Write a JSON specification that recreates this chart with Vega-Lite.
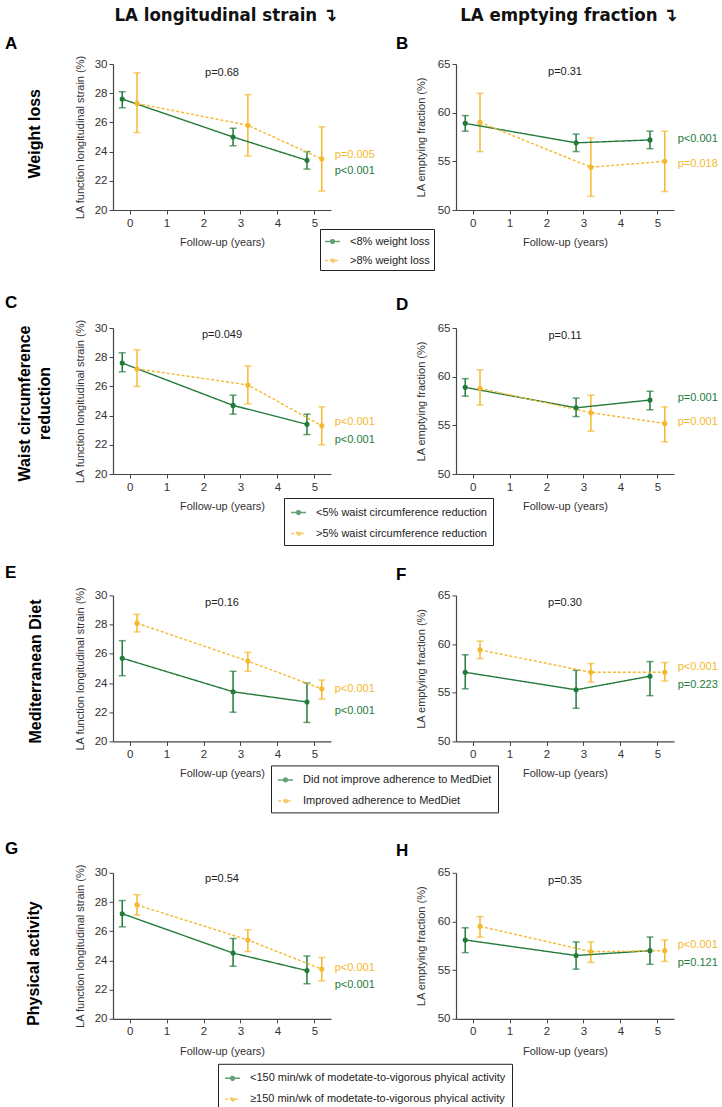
{
"$schema":"https://vega.github.io/schema/vega-lite/v6.json",
"padding":{"left":5,"top":5,"right":0,"bottom":0},
"background":"white",
"datasets":{
"d":[
{"panel":"A","g":"<8% weight loss","x":-0.2,"y":27.6,"lo":27.0,"hi":28.1},
{"panel":"A","g":"<8% weight loss","x":2.8,"y":25.0,"lo":24.4,"hi":25.6},
{"panel":"A","g":"<8% weight loss","x":4.8,"y":23.4,"lo":22.8,"hi":24.0},
{"panel":"A","g":">8% weight loss","x":0.2,"y":27.3,"lo":25.3,"hi":29.4},
{"panel":"A","g":">8% weight loss","x":3.2,"y":25.8,"lo":23.7,"hi":27.9},
{"panel":"A","g":">8% weight loss","x":5.2,"y":23.5,"lo":21.3,"hi":25.7},
{"panel":"B","g":"<8% weight loss","x":-0.2,"y":58.9,"lo":58.1,"hi":59.7},
{"panel":"B","g":"<8% weight loss","x":2.8,"y":56.9,"lo":56.0,"hi":57.8},
{"panel":"B","g":"<8% weight loss","x":4.8,"y":57.2,"lo":56.3,"hi":58.1},
{"panel":"B","g":">8% weight loss","x":0.2,"y":59.0,"lo":56.0,"hi":62.0},
{"panel":"B","g":">8% weight loss","x":3.2,"y":54.4,"lo":51.4,"hi":57.4},
{"panel":"B","g":">8% weight loss","x":5.2,"y":55.0,"lo":51.9,"hi":58.1},
{"panel":"C","g":"<5% waist circumference reduction","x":-0.2,"y":27.6,"lo":27.0,"hi":28.3},
{"panel":"C","g":"<5% waist circumference reduction","x":2.8,"y":24.7,"lo":24.1,"hi":25.4},
{"panel":"C","g":"<5% waist circumference reduction","x":4.8,"y":23.4,"lo":22.7,"hi":24.1},
{"panel":"C","g":">5% waist circumference reduction","x":0.2,"y":27.2,"lo":26.0,"hi":28.5},
{"panel":"C","g":">5% waist circumference reduction","x":3.2,"y":26.1,"lo":24.8,"hi":27.4},
{"panel":"C","g":">5% waist circumference reduction","x":5.2,"y":23.3,"lo":22.0,"hi":24.6},
{"panel":"D","g":"<5% waist circumference reduction","x":-0.2,"y":58.9,"lo":58.0,"hi":59.8},
{"panel":"D","g":"<5% waist circumference reduction","x":2.8,"y":56.8,"lo":55.9,"hi":57.8},
{"panel":"D","g":"<5% waist circumference reduction","x":4.8,"y":57.6,"lo":56.6,"hi":58.5},
{"panel":"D","g":">5% waist circumference reduction","x":0.2,"y":58.8,"lo":57.1,"hi":60.7},
{"panel":"D","g":">5% waist circumference reduction","x":3.2,"y":56.3,"lo":54.4,"hi":58.1},
{"panel":"D","g":">5% waist circumference reduction","x":5.2,"y":55.2,"lo":53.3,"hi":56.9},
{"panel":"E","g":"Did not improve adherence to MedDiet","x":-0.2,"y":25.7,"lo":24.5,"hi":26.9},
{"panel":"E","g":"Did not improve adherence to MedDiet","x":2.8,"y":23.4,"lo":22.0,"hi":24.8},
{"panel":"E","g":"Did not improve adherence to MedDiet","x":4.8,"y":22.7,"lo":21.3,"hi":24.0},
{"panel":"E","g":"Improved adherence to MedDiet","x":0.2,"y":28.1,"lo":27.5,"hi":28.7},
{"panel":"E","g":"Improved adherence to MedDiet","x":3.2,"y":25.5,"lo":24.8,"hi":26.1},
{"panel":"E","g":"Improved adherence to MedDiet","x":5.2,"y":23.6,"lo":22.9,"hi":24.2},
{"panel":"F","g":"Did not improve adherence to MedDiet","x":-0.2,"y":57.1,"lo":55.4,"hi":58.9},
{"panel":"F","g":"Did not improve adherence to MedDiet","x":2.8,"y":55.3,"lo":53.4,"hi":57.3},
{"panel":"F","g":"Did not improve adherence to MedDiet","x":4.8,"y":56.7,"lo":54.7,"hi":58.2},
{"panel":"F","g":"Improved adherence to MedDiet","x":0.2,"y":59.4,"lo":58.5,"hi":60.3},
{"panel":"F","g":"Improved adherence to MedDiet","x":3.2,"y":57.1,"lo":56.1,"hi":58.0},
{"panel":"F","g":"Improved adherence to MedDiet","x":5.2,"y":57.1,"lo":56.2,"hi":58.1},
{"panel":"G","g":"<150 min/wk of modetate-to-vigorous phyical activity","x":-0.2,"y":27.2,"lo":26.3,"hi":28.1},
{"panel":"G","g":"<150 min/wk of modetate-to-vigorous phyical activity","x":2.8,"y":24.5,"lo":23.6,"hi":25.5},
{"panel":"G","g":"<150 min/wk of modetate-to-vigorous phyical activity","x":4.8,"y":23.3,"lo":22.4,"hi":24.3},
{"panel":"G","g":"≥150 min/wk of modetate-to-vigorous phyical activity","x":0.2,"y":27.8,"lo":27.1,"hi":28.5},
{"panel":"G","g":"≥150 min/wk of modetate-to-vigorous phyical activity","x":3.2,"y":25.4,"lo":24.6,"hi":26.1},
{"panel":"G","g":"≥150 min/wk of modetate-to-vigorous phyical activity","x":5.2,"y":23.4,"lo":22.6,"hi":24.2},
{"panel":"H","g":"<150 min/wk of modetate-to-vigorous phyical activity","x":-0.2,"y":58.1,"lo":56.8,"hi":59.35},
{"panel":"H","g":"<150 min/wk of modetate-to-vigorous phyical activity","x":2.8,"y":56.5,"lo":55.1,"hi":57.9},
{"panel":"H","g":"<150 min/wk of modetate-to-vigorous phyical activity","x":4.8,"y":57.0,"lo":55.6,"hi":58.4},
{"panel":"H","g":"≥150 min/wk of modetate-to-vigorous phyical activity","x":0.2,"y":59.5,"lo":58.4,"hi":60.5},
{"panel":"H","g":"≥150 min/wk of modetate-to-vigorous phyical activity","x":3.2,"y":56.9,"lo":55.8,"hi":57.9},
{"panel":"H","g":"≥150 min/wk of modetate-to-vigorous phyical activity","x":5.2,"y":57.0,"lo":55.9,"hi":58.1}
],
"p":[
{"panel":"A","g":">8% weight loss","x":5.55,"y":23.8,"label":"p=0.005"},
{"panel":"A","g":"<8% weight loss","x":5.55,"y":22.65,"label":"p<0.001"},
{"panel":"B","g":"<8% weight loss","x":5.55,"y":57.3,"label":"p<0.001"},
{"panel":"B","g":">8% weight loss","x":5.55,"y":54.7,"label":"p=0.018"},
{"panel":"C","g":">5% waist circumference reduction","x":5.55,"y":23.55,"label":"p<0.001"},
{"panel":"C","g":"<5% waist circumference reduction","x":5.55,"y":22.3,"label":"p<0.001"},
{"panel":"D","g":"<5% waist circumference reduction","x":5.55,"y":57.8,"label":"p=0.001"},
{"panel":"D","g":">5% waist circumference reduction","x":5.55,"y":55.3,"label":"p=0.001"},
{"panel":"E","g":"Improved adherence to MedDiet","x":5.55,"y":23.6,"label":"p<0.001"},
{"panel":"E","g":"Did not improve adherence to MedDiet","x":5.55,"y":22.1,"label":"p<0.001"},
{"panel":"F","g":"Improved adherence to MedDiet","x":5.55,"y":57.6,"label":"p<0.001"},
{"panel":"F","g":"Did not improve adherence to MedDiet","x":5.55,"y":55.8,"label":"p=0.223"},
{"panel":"G","g":"≥150 min/wk of modetate-to-vigorous phyical activity","x":5.55,"y":23.5,"label":"p<0.001"},
{"panel":"G","g":"<150 min/wk of modetate-to-vigorous phyical activity","x":5.55,"y":22.3,"label":"p<0.001"},
{"panel":"H","g":"≥150 min/wk of modetate-to-vigorous phyical activity","x":5.55,"y":57.6,"label":"p<0.001"},
{"panel":"H","g":"<150 min/wk of modetate-to-vigorous phyical activity","x":5.55,"y":55.75,"label":"p=0.121"}
],
"o":[
{"panel":"A","x":2.5,"y":29.4,"label":"p=0.68"},
{"panel":"B","x":2.5,"y":64.15,"label":"p=0.31"},
{"panel":"C","x":2.5,"y":29.5,"label":"p=0.049"},
{"panel":"D","x":2.5,"y":64.2,"label":"p=0.11"},
{"panel":"E","x":2.5,"y":29.45,"label":"p=0.16"},
{"panel":"F","x":2.5,"y":64.2,"label":"p=0.30"},
{"panel":"G","x":2.5,"y":29.55,"label":"p=0.54"},
{"panel":"H","x":2.5,"y":64.15,"label":"p=0.35"}
]
},
"spacing":23,
"resolve":{"scale":{"color":"independent","strokeDash":"independent","x":"independent","y":"independent"},"legend":{"color":"independent","strokeDash":"independent"}},
"vconcat":[
{
"title":{"text":"Weight loss","orient":"left","anchor":"middle","frame":"bounds","offset":-38,"dx":4.5,"fontSize":16},
"bounds":"flush","spacing":125,
"resolve":{"scale":{"color":"independent","strokeDash":"independent","x":"independent","y":"independent"},"legend":{"color":"independent","strokeDash":"independent"}},
"hconcat":[
{"width":218,"height":146,"title":{"text":"A","dx":-108,"offset":-47},
"data":{"name":"d"},"transform":[{"filter":"datum.panel==='A'"}],
"layer":[
{"mark":{"type":"rule","strokeWidth":1.5},"encoding":{"x":{"field":"x","type":"quantitative","scale":{"domain":[-0.45,5.45],"nice":false,"zero":false},"axis":{"title":"Follow-up (years)","values":[0,1,2,3,4,5],"format":"d","labelOverlap":false,"labelPadding":3,"titlePadding":8}},"y":{"field":"lo","type":"quantitative","scale":{"domain":[20,30],"nice":false,"zero":false},"axis":{"title":"LA function longitudinal strain (%)","values":[20,22,24,26,28,30],"format":"d","tickCount":10,"labelOverlap":false,"labelPadding":2,"titlePadding":9}},"y2":{"field":"hi"},"color":{"field":"g","type":"nominal","scale":{"domain":["<8% weight loss",">8% weight loss"],"range":["#237b3b","#f5b82e"]}}}},
{"mark":{"type":"tick","orient":"horizontal","size":7,"thickness":1.5},"encoding":{"x":{"field":"x","type":"quantitative","scale":{"domain":[-0.45,5.45],"nice":false,"zero":false}},"y":{"field":"lo","type":"quantitative","scale":{"domain":[20,30],"nice":false,"zero":false}},"color":{"field":"g","type":"nominal","scale":{"domain":["<8% weight loss",">8% weight loss"],"range":["#237b3b","#f5b82e"]}}}},
{"mark":{"type":"tick","orient":"horizontal","size":7,"thickness":1.5},"encoding":{"x":{"field":"x","type":"quantitative","scale":{"domain":[-0.45,5.45],"nice":false,"zero":false}},"y":{"field":"hi","type":"quantitative","scale":{"domain":[20,30],"nice":false,"zero":false}},"color":{"field":"g","type":"nominal","scale":{"domain":["<8% weight loss",">8% weight loss"],"range":["#237b3b","#f5b82e"]}}}},
{"mark":{"type":"line","strokeWidth":1.4},"encoding":{"x":{"field":"x","type":"quantitative","scale":{"domain":[-0.45,5.45],"nice":false,"zero":false}},"y":{"field":"y","type":"quantitative","scale":{"domain":[20,30],"nice":false,"zero":false}},
"color":{"field":"g","type":"nominal","scale":{"domain":["<8% weight loss",">8% weight loss"],"range":["#237b3b","#f5b82e"]},"legend":{"title":null,"orient":"none","legendX":207,"legendY":165,"padding":4,"rowPadding":5}},
"strokeDash":{"field":"g","type":"nominal","scale":{"domain":["<8% weight loss",">8% weight loss"],"range":[[1,0],[3,2]]},"legend":{"title":null,"orient":"none","legendX":207,"legendY":165,"padding":4,"rowPadding":5}}}},
{"mark":{"type":"point","filled":true,"size":26,"opacity":1},"encoding":{"x":{"field":"x","type":"quantitative","scale":{"domain":[-0.45,5.45],"nice":false,"zero":false}},"y":{"field":"y","type":"quantitative","scale":{"domain":[20,30],"nice":false,"zero":false}},"color":{"field":"g","type":"nominal","scale":{"domain":["<8% weight loss",">8% weight loss"],"range":["#237b3b","#f5b82e"]}}}},
{"data":{"name":"p"},"transform":[{"filter":"datum.panel==='A'"}],"mark":{"type":"text","align":"left","baseline":"middle","fontSize":11},"encoding":{"x":{"field":"x","type":"quantitative","scale":{"domain":[-0.45,5.45],"nice":false,"zero":false}},"y":{"field":"y","type":"quantitative","scale":{"domain":[20,30],"nice":false,"zero":false}},"text":{"field":"label"},"color":{"field":"g","type":"nominal","scale":{"domain":["<8% weight loss",">8% weight loss"],"range":["#237b3b","#f5b82e"]}}}},
{"data":{"name":"o"},"transform":[{"filter":"datum.panel==='A'"}],"mark":{"type":"text","align":"center","baseline":"middle","fontSize":11,"color":"#222"},"encoding":{"x":{"field":"x","type":"quantitative","scale":{"domain":[-0.45,5.45],"nice":false,"zero":false}},"y":{"field":"y","type":"quantitative","scale":{"domain":[20,30],"nice":false,"zero":false}},"text":{"field":"label"}}},
{"data":{"values":[{"t":"LA longitudinal strain ↴"}]},"mark":{"type":"text","align":"center","baseline":"middle","fontSize":18.5,"fontWeight":"bold","font":"DejaVu Sans Condensed, Liberation Sans","color":"#111"},"encoding":{"x":{"datum":2.6,"type":"quantitative","scale":{"domain":[-0.45,5.45],"nice":false,"zero":false}},"y":{"datum":33.36,"type":"quantitative","scale":{"domain":[20,30],"nice":false,"zero":false}},"text":{"field":"t"}}}
]},
{"width":218,"height":146,"title":{"text":"B","dx":-60,"offset":-47},
"data":{"name":"d"},"transform":[{"filter":"datum.panel==='B'"}],
"layer":[
{"mark":{"type":"rule","strokeWidth":1.5},"encoding":{"x":{"field":"x","type":"quantitative","scale":{"domain":[-0.45,5.45],"nice":false,"zero":false},"axis":{"title":"Follow-up (years)","values":[0,1,2,3,4,5],"format":"d","labelOverlap":false,"labelPadding":3,"titlePadding":8}},"y":{"field":"lo","type":"quantitative","scale":{"domain":[50,65],"nice":false,"zero":false},"axis":{"title":"LA emptying fraction  (%)","values":[50,55,60,65],"format":"d","tickCount":10,"labelOverlap":false,"labelPadding":2,"titlePadding":11}},"y2":{"field":"hi"},"color":{"field":"g","type":"nominal","scale":{"domain":["<8% weight loss",">8% weight loss"],"range":["#237b3b","#f5b82e"]},"legend":null}}},
{"mark":{"type":"tick","orient":"horizontal","size":7,"thickness":1.5},"encoding":{"x":{"field":"x","type":"quantitative","scale":{"domain":[-0.45,5.45],"nice":false,"zero":false}},"y":{"field":"lo","type":"quantitative","scale":{"domain":[50,65],"nice":false,"zero":false}},"color":{"field":"g","type":"nominal","scale":{"domain":["<8% weight loss",">8% weight loss"],"range":["#237b3b","#f5b82e"]},"legend":null}}},
{"mark":{"type":"tick","orient":"horizontal","size":7,"thickness":1.5},"encoding":{"x":{"field":"x","type":"quantitative","scale":{"domain":[-0.45,5.45],"nice":false,"zero":false}},"y":{"field":"hi","type":"quantitative","scale":{"domain":[50,65],"nice":false,"zero":false}},"color":{"field":"g","type":"nominal","scale":{"domain":["<8% weight loss",">8% weight loss"],"range":["#237b3b","#f5b82e"]},"legend":null}}},
{"mark":{"type":"line","strokeWidth":1.4},"encoding":{"x":{"field":"x","type":"quantitative","scale":{"domain":[-0.45,5.45],"nice":false,"zero":false}},"y":{"field":"y","type":"quantitative","scale":{"domain":[50,65],"nice":false,"zero":false}},"color":{"field":"g","type":"nominal","scale":{"domain":["<8% weight loss",">8% weight loss"],"range":["#237b3b","#f5b82e"]},"legend":null},"strokeDash":{"field":"g","type":"nominal","scale":{"domain":["<8% weight loss",">8% weight loss"],"range":[[1,0],[3,2]]},"legend":null}}},
{"mark":{"type":"point","filled":true,"size":26,"opacity":1},"encoding":{"x":{"field":"x","type":"quantitative","scale":{"domain":[-0.45,5.45],"nice":false,"zero":false}},"y":{"field":"y","type":"quantitative","scale":{"domain":[50,65],"nice":false,"zero":false}},"color":{"field":"g","type":"nominal","scale":{"domain":["<8% weight loss",">8% weight loss"],"range":["#237b3b","#f5b82e"]},"legend":null}}},
{"data":{"name":"p"},"transform":[{"filter":"datum.panel==='B'"}],"mark":{"type":"text","align":"left","baseline":"middle","fontSize":11},"encoding":{"x":{"field":"x","type":"quantitative","scale":{"domain":[-0.45,5.45],"nice":false,"zero":false}},"y":{"field":"y","type":"quantitative","scale":{"domain":[50,65],"nice":false,"zero":false}},"text":{"field":"label"},"color":{"field":"g","type":"nominal","scale":{"domain":["<8% weight loss",">8% weight loss"],"range":["#237b3b","#f5b82e"]},"legend":null}}},
{"data":{"name":"o"},"transform":[{"filter":"datum.panel==='B'"}],"mark":{"type":"text","align":"center","baseline":"middle","fontSize":11,"color":"#222"},"encoding":{"x":{"field":"x","type":"quantitative","scale":{"domain":[-0.45,5.45],"nice":false,"zero":false}},"y":{"field":"y","type":"quantitative","scale":{"domain":[50,65],"nice":false,"zero":false}},"text":{"field":"label"}}},
{"data":{"values":[{"t":"LA emptying fraction ↴"}]},"mark":{"type":"text","align":"center","baseline":"middle","fontSize":18.5,"fontWeight":"bold","font":"DejaVu Sans Condensed, Liberation Sans","color":"#111"},"encoding":{"x":{"datum":2.6,"type":"quantitative","scale":{"domain":[-0.45,5.45],"nice":false,"zero":false}},"y":{"datum":70.0,"type":"quantitative","scale":{"domain":[50,65],"nice":false,"zero":false}},"text":{"field":"t"}}}
]}
]},
{
"spacing":17.4,
"resolve":{"scale":{"color":"independent","strokeDash":"independent","x":"independent","y":"independent"},"legend":{"color":"independent","strokeDash":"independent"}},
"vconcat":[
{
"title":{"text":["Waist circumference","reduction"],"orient":"left","anchor":"middle","frame":"bounds","offset":-48,"dx":16.5,"fontSize":16,"lineHeight":20},
"bounds":"flush","spacing":125,
"resolve":{"scale":{"color":"independent","strokeDash":"independent","x":"independent","y":"independent"},"legend":{"color":"independent","strokeDash":"independent"}},
"hconcat":[
{"width":218,"height":146,"title":{"text":"C","dx":-108,"offset":6.6},
"data":{"name":"d"},"transform":[{"filter":"datum.panel==='C'"}],
"layer":[
{"mark":{"type":"rule","strokeWidth":1.5},"encoding":{"x":{"field":"x","type":"quantitative","scale":{"domain":[-0.45,5.45],"nice":false,"zero":false},"axis":{"title":"Follow-up (years)","values":[0,1,2,3,4,5],"format":"d","labelOverlap":false,"labelPadding":3,"titlePadding":8}},"y":{"field":"lo","type":"quantitative","scale":{"domain":[20,30],"nice":false,"zero":false},"axis":{"title":"LA function longitudinal strain (%)","values":[20,22,24,26,28,30],"format":"d","tickCount":10,"labelOverlap":false,"labelPadding":2,"titlePadding":9}},"y2":{"field":"hi"},"color":{"field":"g","type":"nominal","scale":{"domain":["<5% waist circumference reduction",">5% waist circumference reduction"],"range":["#237b3b","#f5b82e"]}}}},
{"mark":{"type":"tick","orient":"horizontal","size":7,"thickness":1.5},"encoding":{"x":{"field":"x","type":"quantitative","scale":{"domain":[-0.45,5.45],"nice":false,"zero":false}},"y":{"field":"lo","type":"quantitative","scale":{"domain":[20,30],"nice":false,"zero":false}},"color":{"field":"g","type":"nominal","scale":{"domain":["<5% waist circumference reduction",">5% waist circumference reduction"],"range":["#237b3b","#f5b82e"]}}}},
{"mark":{"type":"tick","orient":"horizontal","size":7,"thickness":1.5},"encoding":{"x":{"field":"x","type":"quantitative","scale":{"domain":[-0.45,5.45],"nice":false,"zero":false}},"y":{"field":"hi","type":"quantitative","scale":{"domain":[20,30],"nice":false,"zero":false}},"color":{"field":"g","type":"nominal","scale":{"domain":["<5% waist circumference reduction",">5% waist circumference reduction"],"range":["#237b3b","#f5b82e"]}}}},
{"mark":{"type":"line","strokeWidth":1.4},"encoding":{"x":{"field":"x","type":"quantitative","scale":{"domain":[-0.45,5.45],"nice":false,"zero":false}},"y":{"field":"y","type":"quantitative","scale":{"domain":[20,30],"nice":false,"zero":false}},
"color":{"field":"g","type":"nominal","scale":{"domain":["<5% waist circumference reduction",">5% waist circumference reduction"],"range":["#237b3b","#f5b82e"]},"legend":{"title":null,"orient":"none","legendX":171,"legendY":170,"padding":6,"rowPadding":7}},
"strokeDash":{"field":"g","type":"nominal","scale":{"domain":["<5% waist circumference reduction",">5% waist circumference reduction"],"range":[[1,0],[3,2]]},"legend":{"title":null,"orient":"none","legendX":171,"legendY":170,"padding":6,"rowPadding":7}}}},
{"mark":{"type":"point","filled":true,"size":26,"opacity":1},"encoding":{"x":{"field":"x","type":"quantitative","scale":{"domain":[-0.45,5.45],"nice":false,"zero":false}},"y":{"field":"y","type":"quantitative","scale":{"domain":[20,30],"nice":false,"zero":false}},"color":{"field":"g","type":"nominal","scale":{"domain":["<5% waist circumference reduction",">5% waist circumference reduction"],"range":["#237b3b","#f5b82e"]}}}},
{"data":{"name":"p"},"transform":[{"filter":"datum.panel==='C'"}],"mark":{"type":"text","align":"left","baseline":"middle","fontSize":11},"encoding":{"x":{"field":"x","type":"quantitative","scale":{"domain":[-0.45,5.45],"nice":false,"zero":false}},"y":{"field":"y","type":"quantitative","scale":{"domain":[20,30],"nice":false,"zero":false}},"text":{"field":"label"},"color":{"field":"g","type":"nominal","scale":{"domain":["<5% waist circumference reduction",">5% waist circumference reduction"],"range":["#237b3b","#f5b82e"]}}}},
{"data":{"name":"o"},"transform":[{"filter":"datum.panel==='C'"}],"mark":{"type":"text","align":"center","baseline":"middle","fontSize":11,"color":"#222"},"encoding":{"x":{"field":"x","type":"quantitative","scale":{"domain":[-0.45,5.45],"nice":false,"zero":false}},"y":{"field":"y","type":"quantitative","scale":{"domain":[20,30],"nice":false,"zero":false}},"text":{"field":"label"}}}
]},
{"width":218,"height":146,"title":{"text":"D","dx":-60,"offset":7.6},
"data":{"name":"d"},"transform":[{"filter":"datum.panel==='D'"}],
"layer":[
{"mark":{"type":"rule","strokeWidth":1.5},"encoding":{"x":{"field":"x","type":"quantitative","scale":{"domain":[-0.45,5.45],"nice":false,"zero":false},"axis":{"title":"Follow-up (years)","values":[0,1,2,3,4,5],"format":"d","labelOverlap":false,"labelPadding":3,"titlePadding":8}},"y":{"field":"lo","type":"quantitative","scale":{"domain":[50,65],"nice":false,"zero":false},"axis":{"title":"LA emptying fraction  (%)","values":[50,55,60,65],"format":"d","tickCount":10,"labelOverlap":false,"labelPadding":2,"titlePadding":11}},"y2":{"field":"hi"},"color":{"field":"g","type":"nominal","scale":{"domain":["<5% waist circumference reduction",">5% waist circumference reduction"],"range":["#237b3b","#f5b82e"]},"legend":null}}},
{"mark":{"type":"tick","orient":"horizontal","size":7,"thickness":1.5},"encoding":{"x":{"field":"x","type":"quantitative","scale":{"domain":[-0.45,5.45],"nice":false,"zero":false}},"y":{"field":"lo","type":"quantitative","scale":{"domain":[50,65],"nice":false,"zero":false}},"color":{"field":"g","type":"nominal","scale":{"domain":["<5% waist circumference reduction",">5% waist circumference reduction"],"range":["#237b3b","#f5b82e"]},"legend":null}}},
{"mark":{"type":"tick","orient":"horizontal","size":7,"thickness":1.5},"encoding":{"x":{"field":"x","type":"quantitative","scale":{"domain":[-0.45,5.45],"nice":false,"zero":false}},"y":{"field":"hi","type":"quantitative","scale":{"domain":[50,65],"nice":false,"zero":false}},"color":{"field":"g","type":"nominal","scale":{"domain":["<5% waist circumference reduction",">5% waist circumference reduction"],"range":["#237b3b","#f5b82e"]},"legend":null}}},
{"mark":{"type":"line","strokeWidth":1.4},"encoding":{"x":{"field":"x","type":"quantitative","scale":{"domain":[-0.45,5.45],"nice":false,"zero":false}},"y":{"field":"y","type":"quantitative","scale":{"domain":[50,65],"nice":false,"zero":false}},"color":{"field":"g","type":"nominal","scale":{"domain":["<5% waist circumference reduction",">5% waist circumference reduction"],"range":["#237b3b","#f5b82e"]},"legend":null},"strokeDash":{"field":"g","type":"nominal","scale":{"domain":["<5% waist circumference reduction",">5% waist circumference reduction"],"range":[[1,0],[3,2]]},"legend":null}}},
{"mark":{"type":"point","filled":true,"size":26,"opacity":1},"encoding":{"x":{"field":"x","type":"quantitative","scale":{"domain":[-0.45,5.45],"nice":false,"zero":false}},"y":{"field":"y","type":"quantitative","scale":{"domain":[50,65],"nice":false,"zero":false}},"color":{"field":"g","type":"nominal","scale":{"domain":["<5% waist circumference reduction",">5% waist circumference reduction"],"range":["#237b3b","#f5b82e"]},"legend":null}}},
{"data":{"name":"p"},"transform":[{"filter":"datum.panel==='D'"}],"mark":{"type":"text","align":"left","baseline":"middle","fontSize":11},"encoding":{"x":{"field":"x","type":"quantitative","scale":{"domain":[-0.45,5.45],"nice":false,"zero":false}},"y":{"field":"y","type":"quantitative","scale":{"domain":[50,65],"nice":false,"zero":false}},"text":{"field":"label"},"color":{"field":"g","type":"nominal","scale":{"domain":["<5% waist circumference reduction",">5% waist circumference reduction"],"range":["#237b3b","#f5b82e"]},"legend":null}}},
{"data":{"name":"o"},"transform":[{"filter":"datum.panel==='D'"}],"mark":{"type":"text","align":"center","baseline":"middle","fontSize":11,"color":"#222"},"encoding":{"x":{"field":"x","type":"quantitative","scale":{"domain":[-0.45,5.45],"nice":false,"zero":false}},"y":{"field":"y","type":"quantitative","scale":{"domain":[50,65],"nice":false,"zero":false}},"text":{"field":"label"}}}
]}
]},
{
"spacing":26.4,
"resolve":{"scale":{"color":"independent","strokeDash":"independent","x":"independent","y":"independent"},"legend":{"color":"independent","strokeDash":"independent"}},
"vconcat":[
{
"title":{"text":"Mediterranean Diet","orient":"left","anchor":"middle","frame":"bounds","offset":-39,"dx":17,"fontSize":16},
"bounds":"flush","spacing":125,
"resolve":{"scale":{"color":"independent","strokeDash":"independent","x":"independent","y":"independent"},"legend":{"color":"independent","strokeDash":"independent"}},
"hconcat":[
{"width":218,"height":146,"title":{"text":"E","dx":-108,"offset":4.3},
"data":{"name":"d"},"transform":[{"filter":"datum.panel==='E'"}],
"layer":[
{"mark":{"type":"rule","strokeWidth":1.5},"encoding":{"x":{"field":"x","type":"quantitative","scale":{"domain":[-0.45,5.45],"nice":false,"zero":false},"axis":{"title":"Follow-up (years)","values":[0,1,2,3,4,5],"format":"d","labelOverlap":false,"labelPadding":3,"titlePadding":8}},"y":{"field":"lo","type":"quantitative","scale":{"domain":[20,30],"nice":false,"zero":false},"axis":{"title":"LA function longitudinal strain (%)","values":[20,22,24,26,28,30],"format":"d","tickCount":10,"labelOverlap":false,"labelPadding":2,"titlePadding":9}},"y2":{"field":"hi"},"color":{"field":"g","type":"nominal","scale":{"domain":["Did not improve adherence to MedDiet","Improved adherence to MedDiet"],"range":["#237b3b","#f5b82e"]}}}},
{"mark":{"type":"tick","orient":"horizontal","size":7,"thickness":1.5},"encoding":{"x":{"field":"x","type":"quantitative","scale":{"domain":[-0.45,5.45],"nice":false,"zero":false}},"y":{"field":"lo","type":"quantitative","scale":{"domain":[20,30],"nice":false,"zero":false}},"color":{"field":"g","type":"nominal","scale":{"domain":["Did not improve adherence to MedDiet","Improved adherence to MedDiet"],"range":["#237b3b","#f5b82e"]}}}},
{"mark":{"type":"tick","orient":"horizontal","size":7,"thickness":1.5},"encoding":{"x":{"field":"x","type":"quantitative","scale":{"domain":[-0.45,5.45],"nice":false,"zero":false}},"y":{"field":"hi","type":"quantitative","scale":{"domain":[20,30],"nice":false,"zero":false}},"color":{"field":"g","type":"nominal","scale":{"domain":["Did not improve adherence to MedDiet","Improved adherence to MedDiet"],"range":["#237b3b","#f5b82e"]}}}},
{"mark":{"type":"line","strokeWidth":1.4},"encoding":{"x":{"field":"x","type":"quantitative","scale":{"domain":[-0.45,5.45],"nice":false,"zero":false}},"y":{"field":"y","type":"quantitative","scale":{"domain":[20,30],"nice":false,"zero":false}},
"color":{"field":"g","type":"nominal","scale":{"domain":["Did not improve adherence to MedDiet","Improved adherence to MedDiet"],"range":["#237b3b","#f5b82e"]},"legend":{"title":null,"orient":"none","legendX":158,"legendY":170,"padding":6,"rowPadding":7}},
"strokeDash":{"field":"g","type":"nominal","scale":{"domain":["Did not improve adherence to MedDiet","Improved adherence to MedDiet"],"range":[[1,0],[3,2]]},"legend":{"title":null,"orient":"none","legendX":158,"legendY":170,"padding":6,"rowPadding":7}}}},
{"mark":{"type":"point","filled":true,"size":26,"opacity":1},"encoding":{"x":{"field":"x","type":"quantitative","scale":{"domain":[-0.45,5.45],"nice":false,"zero":false}},"y":{"field":"y","type":"quantitative","scale":{"domain":[20,30],"nice":false,"zero":false}},"color":{"field":"g","type":"nominal","scale":{"domain":["Did not improve adherence to MedDiet","Improved adherence to MedDiet"],"range":["#237b3b","#f5b82e"]}}}},
{"data":{"name":"p"},"transform":[{"filter":"datum.panel==='E'"}],"mark":{"type":"text","align":"left","baseline":"middle","fontSize":11},"encoding":{"x":{"field":"x","type":"quantitative","scale":{"domain":[-0.45,5.45],"nice":false,"zero":false}},"y":{"field":"y","type":"quantitative","scale":{"domain":[20,30],"nice":false,"zero":false}},"text":{"field":"label"},"color":{"field":"g","type":"nominal","scale":{"domain":["Did not improve adherence to MedDiet","Improved adherence to MedDiet"],"range":["#237b3b","#f5b82e"]}}}},
{"data":{"name":"o"},"transform":[{"filter":"datum.panel==='E'"}],"mark":{"type":"text","align":"center","baseline":"middle","fontSize":11,"color":"#222"},"encoding":{"x":{"field":"x","type":"quantitative","scale":{"domain":[-0.45,5.45],"nice":false,"zero":false}},"y":{"field":"y","type":"quantitative","scale":{"domain":[20,30],"nice":false,"zero":false}},"text":{"field":"label"}}}
]},
{"width":218,"height":146,"title":{"text":"F","dx":-60,"offset":5.3},
"data":{"name":"d"},"transform":[{"filter":"datum.panel==='F'"}],
"layer":[
{"mark":{"type":"rule","strokeWidth":1.5},"encoding":{"x":{"field":"x","type":"quantitative","scale":{"domain":[-0.45,5.45],"nice":false,"zero":false},"axis":{"title":"Follow-up (years)","values":[0,1,2,3,4,5],"format":"d","labelOverlap":false,"labelPadding":3,"titlePadding":8}},"y":{"field":"lo","type":"quantitative","scale":{"domain":[50,65],"nice":false,"zero":false},"axis":{"title":"LA emptying fraction  (%)","values":[50,55,60,65],"format":"d","tickCount":10,"labelOverlap":false,"labelPadding":2,"titlePadding":11}},"y2":{"field":"hi"},"color":{"field":"g","type":"nominal","scale":{"domain":["Did not improve adherence to MedDiet","Improved adherence to MedDiet"],"range":["#237b3b","#f5b82e"]},"legend":null}}},
{"mark":{"type":"tick","orient":"horizontal","size":7,"thickness":1.5},"encoding":{"x":{"field":"x","type":"quantitative","scale":{"domain":[-0.45,5.45],"nice":false,"zero":false}},"y":{"field":"lo","type":"quantitative","scale":{"domain":[50,65],"nice":false,"zero":false}},"color":{"field":"g","type":"nominal","scale":{"domain":["Did not improve adherence to MedDiet","Improved adherence to MedDiet"],"range":["#237b3b","#f5b82e"]},"legend":null}}},
{"mark":{"type":"tick","orient":"horizontal","size":7,"thickness":1.5},"encoding":{"x":{"field":"x","type":"quantitative","scale":{"domain":[-0.45,5.45],"nice":false,"zero":false}},"y":{"field":"hi","type":"quantitative","scale":{"domain":[50,65],"nice":false,"zero":false}},"color":{"field":"g","type":"nominal","scale":{"domain":["Did not improve adherence to MedDiet","Improved adherence to MedDiet"],"range":["#237b3b","#f5b82e"]},"legend":null}}},
{"mark":{"type":"line","strokeWidth":1.4},"encoding":{"x":{"field":"x","type":"quantitative","scale":{"domain":[-0.45,5.45],"nice":false,"zero":false}},"y":{"field":"y","type":"quantitative","scale":{"domain":[50,65],"nice":false,"zero":false}},"color":{"field":"g","type":"nominal","scale":{"domain":["Did not improve adherence to MedDiet","Improved adherence to MedDiet"],"range":["#237b3b","#f5b82e"]},"legend":null},"strokeDash":{"field":"g","type":"nominal","scale":{"domain":["Did not improve adherence to MedDiet","Improved adherence to MedDiet"],"range":[[1,0],[3,2]]},"legend":null}}},
{"mark":{"type":"point","filled":true,"size":26,"opacity":1},"encoding":{"x":{"field":"x","type":"quantitative","scale":{"domain":[-0.45,5.45],"nice":false,"zero":false}},"y":{"field":"y","type":"quantitative","scale":{"domain":[50,65],"nice":false,"zero":false}},"color":{"field":"g","type":"nominal","scale":{"domain":["Did not improve adherence to MedDiet","Improved adherence to MedDiet"],"range":["#237b3b","#f5b82e"]},"legend":null}}},
{"data":{"name":"p"},"transform":[{"filter":"datum.panel==='F'"}],"mark":{"type":"text","align":"left","baseline":"middle","fontSize":11},"encoding":{"x":{"field":"x","type":"quantitative","scale":{"domain":[-0.45,5.45],"nice":false,"zero":false}},"y":{"field":"y","type":"quantitative","scale":{"domain":[50,65],"nice":false,"zero":false}},"text":{"field":"label"},"color":{"field":"g","type":"nominal","scale":{"domain":["Did not improve adherence to MedDiet","Improved adherence to MedDiet"],"range":["#237b3b","#f5b82e"]},"legend":null}}},
{"data":{"name":"o"},"transform":[{"filter":"datum.panel==='F'"}],"mark":{"type":"text","align":"center","baseline":"middle","fontSize":11,"color":"#222"},"encoding":{"x":{"field":"x","type":"quantitative","scale":{"domain":[-0.45,5.45],"nice":false,"zero":false}},"y":{"field":"y","type":"quantitative","scale":{"domain":[50,65],"nice":false,"zero":false}},"text":{"field":"label"}}}
]}
]},
{
"title":{"text":"Physical activity","orient":"left","anchor":"middle","frame":"bounds","offset":-37,"dx":12,"fontSize":16},
"bounds":"flush","spacing":125,
"resolve":{"scale":{"color":"independent","strokeDash":"independent","x":"independent","y":"independent"},"legend":{"color":"independent","strokeDash":"independent"}},
"hconcat":[
{"width":218,"height":146,"title":{"text":"G","dx":-108,"offset":6},
"data":{"name":"d"},"transform":[{"filter":"datum.panel==='G'"}],
"layer":[
{"mark":{"type":"rule","strokeWidth":1.5},"encoding":{"x":{"field":"x","type":"quantitative","scale":{"domain":[-0.45,5.45],"nice":false,"zero":false},"axis":{"title":"Follow-up (years)","values":[0,1,2,3,4,5],"format":"d","labelOverlap":false,"labelPadding":3,"titlePadding":8}},"y":{"field":"lo","type":"quantitative","scale":{"domain":[20,30],"nice":false,"zero":false},"axis":{"title":"LA function longitudinal strain (%)","values":[20,22,24,26,28,30],"format":"d","tickCount":10,"labelOverlap":false,"labelPadding":2,"titlePadding":9}},"y2":{"field":"hi"},"color":{"field":"g","type":"nominal","scale":{"domain":["<150 min/wk of modetate-to-vigorous phyical activity","≥150 min/wk of modetate-to-vigorous phyical activity"],"range":["#237b3b","#f5b82e"]}}}},
{"mark":{"type":"tick","orient":"horizontal","size":7,"thickness":1.5},"encoding":{"x":{"field":"x","type":"quantitative","scale":{"domain":[-0.45,5.45],"nice":false,"zero":false}},"y":{"field":"lo","type":"quantitative","scale":{"domain":[20,30],"nice":false,"zero":false}},"color":{"field":"g","type":"nominal","scale":{"domain":["<150 min/wk of modetate-to-vigorous phyical activity","≥150 min/wk of modetate-to-vigorous phyical activity"],"range":["#237b3b","#f5b82e"]}}}},
{"mark":{"type":"tick","orient":"horizontal","size":7,"thickness":1.5},"encoding":{"x":{"field":"x","type":"quantitative","scale":{"domain":[-0.45,5.45],"nice":false,"zero":false}},"y":{"field":"hi","type":"quantitative","scale":{"domain":[20,30],"nice":false,"zero":false}},"color":{"field":"g","type":"nominal","scale":{"domain":["<150 min/wk of modetate-to-vigorous phyical activity","≥150 min/wk of modetate-to-vigorous phyical activity"],"range":["#237b3b","#f5b82e"]}}}},
{"mark":{"type":"line","strokeWidth":1.4},"encoding":{"x":{"field":"x","type":"quantitative","scale":{"domain":[-0.45,5.45],"nice":false,"zero":false}},"y":{"field":"y","type":"quantitative","scale":{"domain":[20,30],"nice":false,"zero":false}},
"color":{"field":"g","type":"nominal","scale":{"domain":["<150 min/wk of modetate-to-vigorous phyical activity","≥150 min/wk of modetate-to-vigorous phyical activity"],"range":["#237b3b","#f5b82e"]},"legend":{"title":null,"orient":"none","legendX":105,"legendY":191,"padding":6,"rowPadding":7}},
"strokeDash":{"field":"g","type":"nominal","scale":{"domain":["<150 min/wk of modetate-to-vigorous phyical activity","≥150 min/wk of modetate-to-vigorous phyical activity"],"range":[[1,0],[3,2]]},"legend":{"title":null,"orient":"none","legendX":105,"legendY":191,"padding":6,"rowPadding":7}}}},
{"mark":{"type":"point","filled":true,"size":26,"opacity":1},"encoding":{"x":{"field":"x","type":"quantitative","scale":{"domain":[-0.45,5.45],"nice":false,"zero":false}},"y":{"field":"y","type":"quantitative","scale":{"domain":[20,30],"nice":false,"zero":false}},"color":{"field":"g","type":"nominal","scale":{"domain":["<150 min/wk of modetate-to-vigorous phyical activity","≥150 min/wk of modetate-to-vigorous phyical activity"],"range":["#237b3b","#f5b82e"]}}}},
{"data":{"name":"p"},"transform":[{"filter":"datum.panel==='G'"}],"mark":{"type":"text","align":"left","baseline":"middle","fontSize":11},"encoding":{"x":{"field":"x","type":"quantitative","scale":{"domain":[-0.45,5.45],"nice":false,"zero":false}},"y":{"field":"y","type":"quantitative","scale":{"domain":[20,30],"nice":false,"zero":false}},"text":{"field":"label"},"color":{"field":"g","type":"nominal","scale":{"domain":["<150 min/wk of modetate-to-vigorous phyical activity","≥150 min/wk of modetate-to-vigorous phyical activity"],"range":["#237b3b","#f5b82e"]}}}},
{"data":{"name":"o"},"transform":[{"filter":"datum.panel==='G'"}],"mark":{"type":"text","align":"center","baseline":"middle","fontSize":11,"color":"#222"},"encoding":{"x":{"field":"x","type":"quantitative","scale":{"domain":[-0.45,5.45],"nice":false,"zero":false}},"y":{"field":"y","type":"quantitative","scale":{"domain":[20,30],"nice":false,"zero":false}},"text":{"field":"label"}}}
]},
{"width":218,"height":146,"title":{"text":"H","dx":-60,"offset":7},
"data":{"name":"d"},"transform":[{"filter":"datum.panel==='H'"}],
"layer":[
{"mark":{"type":"rule","strokeWidth":1.5},"encoding":{"x":{"field":"x","type":"quantitative","scale":{"domain":[-0.45,5.45],"nice":false,"zero":false},"axis":{"title":"Follow-up (years)","values":[0,1,2,3,4,5],"format":"d","labelOverlap":false,"labelPadding":3,"titlePadding":8}},"y":{"field":"lo","type":"quantitative","scale":{"domain":[50,65],"nice":false,"zero":false},"axis":{"title":"LA emptying fraction  (%)","values":[50,55,60,65],"format":"d","tickCount":10,"labelOverlap":false,"labelPadding":2,"titlePadding":11}},"y2":{"field":"hi"},"color":{"field":"g","type":"nominal","scale":{"domain":["<150 min/wk of modetate-to-vigorous phyical activity","≥150 min/wk of modetate-to-vigorous phyical activity"],"range":["#237b3b","#f5b82e"]},"legend":null}}},
{"mark":{"type":"tick","orient":"horizontal","size":7,"thickness":1.5},"encoding":{"x":{"field":"x","type":"quantitative","scale":{"domain":[-0.45,5.45],"nice":false,"zero":false}},"y":{"field":"lo","type":"quantitative","scale":{"domain":[50,65],"nice":false,"zero":false}},"color":{"field":"g","type":"nominal","scale":{"domain":["<150 min/wk of modetate-to-vigorous phyical activity","≥150 min/wk of modetate-to-vigorous phyical activity"],"range":["#237b3b","#f5b82e"]},"legend":null}}},
{"mark":{"type":"tick","orient":"horizontal","size":7,"thickness":1.5},"encoding":{"x":{"field":"x","type":"quantitative","scale":{"domain":[-0.45,5.45],"nice":false,"zero":false}},"y":{"field":"hi","type":"quantitative","scale":{"domain":[50,65],"nice":false,"zero":false}},"color":{"field":"g","type":"nominal","scale":{"domain":["<150 min/wk of modetate-to-vigorous phyical activity","≥150 min/wk of modetate-to-vigorous phyical activity"],"range":["#237b3b","#f5b82e"]},"legend":null}}},
{"mark":{"type":"line","strokeWidth":1.4},"encoding":{"x":{"field":"x","type":"quantitative","scale":{"domain":[-0.45,5.45],"nice":false,"zero":false}},"y":{"field":"y","type":"quantitative","scale":{"domain":[50,65],"nice":false,"zero":false}},"color":{"field":"g","type":"nominal","scale":{"domain":["<150 min/wk of modetate-to-vigorous phyical activity","≥150 min/wk of modetate-to-vigorous phyical activity"],"range":["#237b3b","#f5b82e"]},"legend":null},"strokeDash":{"field":"g","type":"nominal","scale":{"domain":["<150 min/wk of modetate-to-vigorous phyical activity","≥150 min/wk of modetate-to-vigorous phyical activity"],"range":[[1,0],[3,2]]},"legend":null}}},
{"mark":{"type":"point","filled":true,"size":26,"opacity":1},"encoding":{"x":{"field":"x","type":"quantitative","scale":{"domain":[-0.45,5.45],"nice":false,"zero":false}},"y":{"field":"y","type":"quantitative","scale":{"domain":[50,65],"nice":false,"zero":false}},"color":{"field":"g","type":"nominal","scale":{"domain":["<150 min/wk of modetate-to-vigorous phyical activity","≥150 min/wk of modetate-to-vigorous phyical activity"],"range":["#237b3b","#f5b82e"]},"legend":null}}},
{"data":{"name":"p"},"transform":[{"filter":"datum.panel==='H'"}],"mark":{"type":"text","align":"left","baseline":"middle","fontSize":11},"encoding":{"x":{"field":"x","type":"quantitative","scale":{"domain":[-0.45,5.45],"nice":false,"zero":false}},"y":{"field":"y","type":"quantitative","scale":{"domain":[50,65],"nice":false,"zero":false}},"text":{"field":"label"},"color":{"field":"g","type":"nominal","scale":{"domain":["<150 min/wk of modetate-to-vigorous phyical activity","≥150 min/wk of modetate-to-vigorous phyical activity"],"range":["#237b3b","#f5b82e"]},"legend":null}}},
{"data":{"name":"o"},"transform":[{"filter":"datum.panel==='H'"}],"mark":{"type":"text","align":"center","baseline":"middle","fontSize":11,"color":"#222"},"encoding":{"x":{"field":"x","type":"quantitative","scale":{"domain":[-0.45,5.45],"nice":false,"zero":false}},"y":{"field":"y","type":"quantitative","scale":{"domain":[50,65],"nice":false,"zero":false}},"text":{"field":"label"}}}
]}
]}
]}
]}
],
"config":{
"view":{"stroke":null},
"font":"Liberation Sans",
"axis":{"labelFont":"Liberation Sans","labelFontSize":11.5,"labelColor":"#333","labelOverlap":false,"titleFont":"Liberation Sans","titleFontSize":11,"titleFontWeight":"normal","titleColor":"#333","domainColor":"#444","tickColor":"#444","tickSize":4,"grid":false,"domainWidth":1.2},
"legend":{"labelFont":"Liberation Sans","labelFontSize":11,"labelColor":"#222","labelLimit":400,"strokeColor":"#222","fillColor":"white","symbolType":"M-1,0L1,0M0.25,0A0.25,0.25,0,1,1,-0.25,0A0.25,0.25,0,1,1,0.25,0","symbolSize":225,"symbolStrokeWidth":1.5,"labelOffset":9},
"title":{"font":"Liberation Sans","fontSize":17,"fontWeight":"bold","color":"#000","anchor":"start","frame":"group","baseline":"alphabetic"}
}
}
